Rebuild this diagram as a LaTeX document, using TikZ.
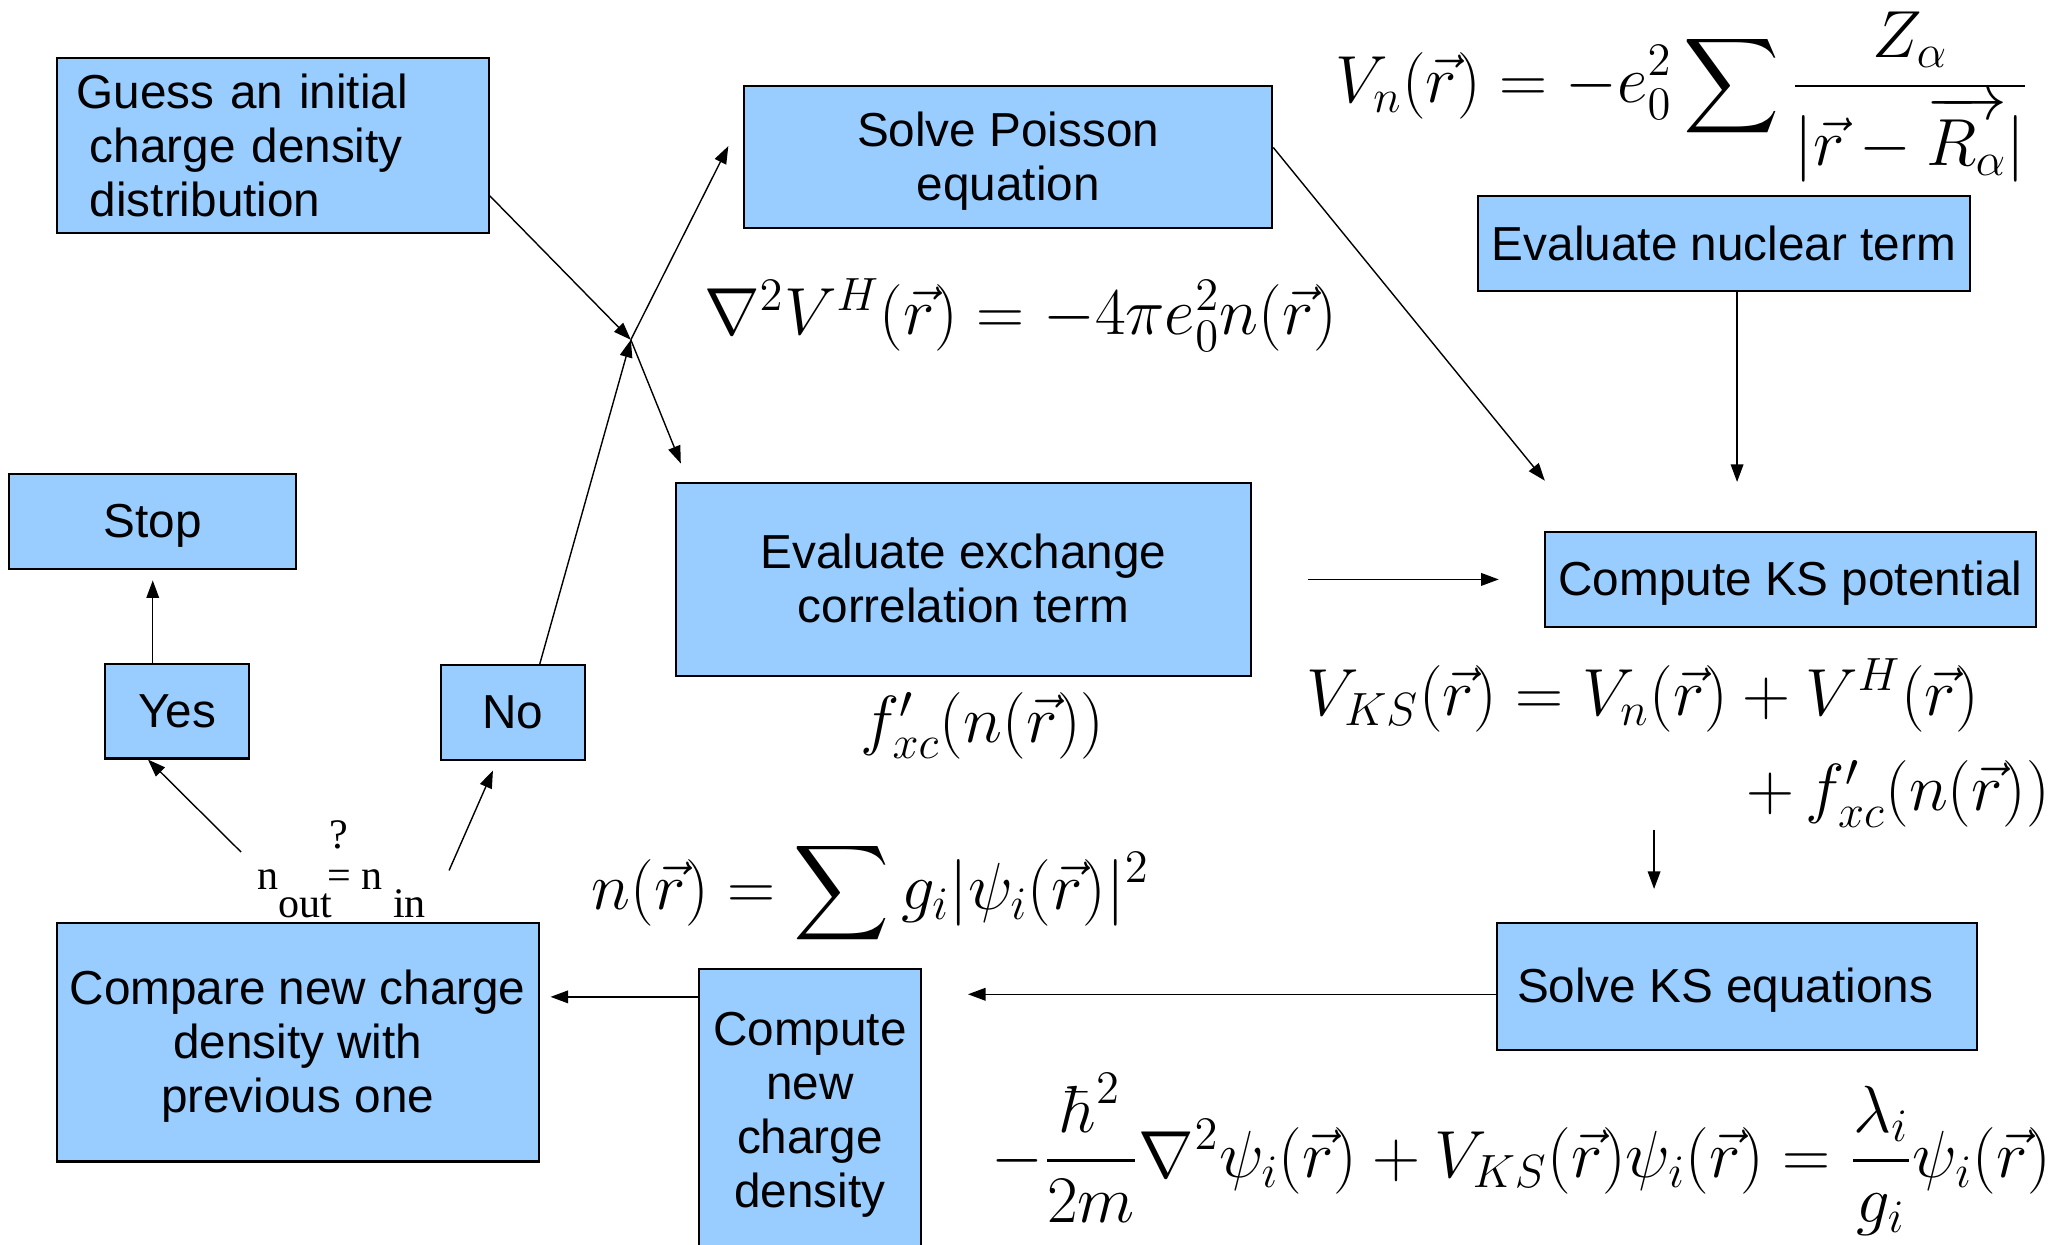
\documentclass[tikz,border=0pt]{standalone}
\usepackage{fix-cm}
\usepackage{amsmath,amssymb}
\usepackage{fontspec}
\newfontfamily\boxfont{Liberation Sans}
\newfontfamily\testfont{Liberation Serif}
\usetikzlibrary{arrows.meta,calc,positioning}
\definecolor{boxblue}{HTML}{99CCFF}
% line-box struts: top of first line, bottom of last line
\newcommand{\tstr}{\rule{0pt}{12.3pt}}
\newcommand{\bstr}{\rule[-2.9pt]{0pt}{0pt}}

\begin{document}
\begin{tikzpicture}[
  box/.style={draw=black, line width=0.6pt, fill=boxblue, align=center,
              inner sep=2pt, font={\boxfont\fontsize{13.6}{15.4}\selectfont}},
  eq/.style={inner sep=0pt, font={\fontsize{19}{23}\selectfont}},
  arr/.style={-{Triangle[length=5pt,width=3.6pt]}, thin},
]
\useasboundingbox (0,0) rectangle (20.698,12.474);
\clip (0,0) rectangle (20.698,12.474);

% ======================= boxes =======================
\node[box, align=left, text width=3.93cm, inner xsep=0.2cm, minimum height=1.756cm] (guess) at (2.732,11.015)
  {\tstr Guess an initial\\\hspace*{3.8pt}charge density\\\hspace*{3.8pt}distribution\bstr};
\node[box, minimum width=5.293cm, minimum height=1.426cm] (poisson) at (10.105,10.903) {\tstr Solve Poisson\\ equation\bstr};
\node[box, minimum width=4.937cm, minimum height=0.95cm] (nuclear) at (17.279,10.032) {\tstr Evaluate nuclear term\bstr};
\node[box, minimum width=2.878cm, minimum height=0.95cm] (stop) at (1.531,7.247) {\tstr Stop\bstr};
\node[box, minimum width=5.768cm, minimum height=1.927cm] (exch) at (9.656,6.666) {\tstr Evaluate exchange\\ correlation term\bstr};
\node[box, minimum width=4.924cm, minimum height=0.95cm] (kspot) at (17.945,6.666) {\tstr Compute KS potential\bstr};
\node[box, minimum width=1.439cm, minimum height=0.95cm] (yes) at (1.775,5.346) {\tstr Yes\bstr};
\node[box, minimum width=1.439cm, minimum height=0.95cm] (no) at (5.141,5.333) {\tstr No\bstr};
\node[box, minimum width=4.831cm, minimum height=2.389cm] (compare) at (2.983,2.026)
  {\tstr Compare new charge\\ density with\\ previous one\bstr};
\node[box, minimum width=2.218cm, minimum height=2.825cm] (newrho) at (8.118,1.346)
  {\tstr Compute\\ new\\ charge\\ density\bstr};
\node[box, minimum width=4.805cm, minimum height=1.267cm] (solveks) at (17.411,2.587)
  {\tstr Solve KS equations\hspace*{0.24cm}\bstr};

% ======================= formulas =======================
\node[eq] (eqvn) at (16.863,11.50)
  {$\displaystyle V_n(\vec{r}) = -e_0^2\sum\frac{Z_\alpha}{|\vec{r}-\overrightarrow{R_\alpha}|}$};
\node[eq] (eqpoisson) at (10.230,9.319) {$\nabla^2V^H(\vec{r}) = -4\pi e_0^2 n(\vec{r})$};
\node[eq] (eqfxc) at (9.847,5.201) {$f'_{xc}(n(\vec{r}))$};
\node[eq] (eqvks) at (16.467,5.504) {$V_{KS}(\vec{r}) = V_n(\vec{r}) + V^H(\vec{r})$};
\node[eq] (eqvksb) at (19.028,4.514) {$+\,f'_{xc}(n(\vec{r}))$};
\node[eq] (eqrho) at (8.725,3.524) {$\displaystyle n(\vec{r}) = \sum g_i|\psi_i(\vec{r})|^2$};
\node[eq] (eqks) at (15.246,0.900)
  {$\displaystyle -\frac{\hbar^2}{2m}\nabla^2\psi_i(\vec{r}) + V_{KS}(\vec{r})\psi_i(\vec{r}) = \frac{\lambda_i}{g_i}\psi_i(\vec{r})$};

% convergence test
\node[inner sep=0pt, font={\testfont\fontsize{12}{14}\selectfont}] (test) at (3.425,3.762)
  {n\raisebox{-8pt}{out}\hspace{-1.5pt}\shortstack{?\\[3pt]=}\ n\ \raisebox{-8pt}{in}};

% ======================= connectors =======================
\coordinate (xc) at (6.323,9.068);
\coordinate (exin) at (6.824,7.828);
\coordinate (poin) at (7.300,11.009);
\coordinate (ksin) at (15.484,7.656);
\coordinate (nucin) at (17.411,7.643);
\coordinate (exa) at (13.108,6.666);
\coordinate (exb) at (15.022,6.666);
\coordinate (ksa) at (16.579,4.158);
\coordinate (ksb) at (16.579,3.564);
\coordinate (rhoin) at (9.702,2.508);
\coordinate (cmpin) at (5.518,2.482);
\coordinate (ya) at (2.416,3.934);
\coordinate (na) at (4.501,3.749);

% start: guess, and the No branch, both through the crossing
\draw[arr] (guess.-13.5) -- (xc);
\draw[arr] (xc) -- (exin);
\draw[arr] (no.61.6) -- (xc);
\draw[arr] (xc) -- (poin);

% potential terms into the KS potential
\draw[arr] (poisson.2) -- (ksin);
\draw[arr] (nuclear.south -| nucin) -- (nucin);
\draw[arr] (exa) -- (exb);

% KS potential -> KS equations -> density -> compare
\draw[arr] (ksa) -- (ksb);
\draw[arr] (solveks.west |- rhoin) -- (rhoin);
\draw[arr] (newrho.west |- cmpin) -- (cmpin);

% test -> yes / no
\draw[arr] (ya) -- (yes.-121);
\draw[arr, shorten >=3pt] (na) -- (no.-108);
\draw[arr, shorten >=3pt] (yes.north -| stop.south) -- (stop.south);
\end{tikzpicture}
\end{document}
